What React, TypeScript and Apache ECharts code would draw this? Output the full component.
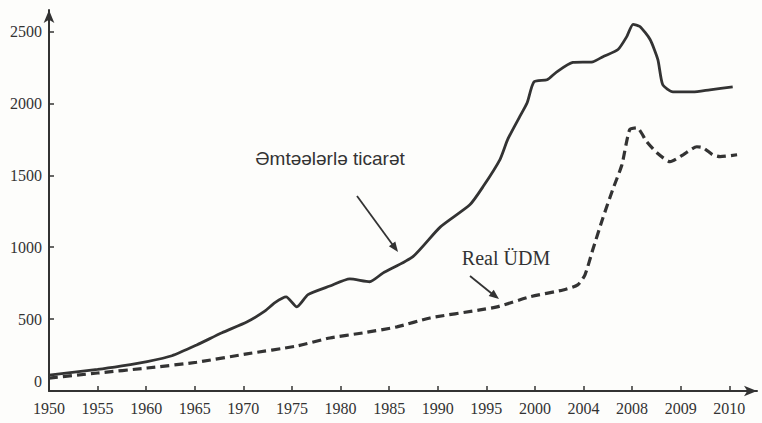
import React, { useEffect, useRef } from "react";
import * as echarts from "echarts";

// x-axis category labels (equally spaced positions 0..14)
const yearLabels = ["1950", "1955", "1960", "1965", "1970", "1975", "1980", "1985", "1990", "1995", "2000", "2004", "2008", "2009", "2010"];
const yTicks = [0, 500, 1000, 1500, 2000, 2500];

// Əmtəələrlə ticarət (solid) — position on the label scale, value
const tradePos = [0, 1.0, 1.5, 2.02, 2.53, 3.04, 3.56, 4.07, 4.44, 4.65, 4.88, 5.1, 5.33, 5.78, 6.19, 6.6, 6.87, 7.49, 8.05, 8.66, 8.93, 9.28, 9.44, 9.69, 9.84, 9.98, 10.25, 10.45, 10.78, 11.19, 11.4, 11.71, 11.89, 12.02, 12.16, 12.37, 12.53, 12.63, 12.84, 13.25, 13.6, 14.07];
const tradeValues = [110, 150, 175, 205, 245, 320, 405, 480, 555, 615, 655, 585, 670, 730, 780, 760, 820, 935, 1140, 1295, 1420, 1610, 1750, 1910, 2005, 2150, 2165, 2220, 2285, 2290, 2325, 2375, 2465, 2550, 2535, 2445, 2305, 2130, 2080, 2080, 2095, 2115];

// Real ÜDM (dashed)
const gdpPos = [0, 1.0, 2.02, 3.04, 4.07, 5.1, 5.78, 6.46, 7.16, 7.84, 8.87, 9.22, 9.9, 10.58, 10.88, 11.03, 11.19, 11.4, 11.6, 11.79, 11.95, 12.1, 12.3, 12.51, 12.78, 13.05, 13.33, 13.46, 13.66, 13.81, 14.16];
const gdpValues = [90, 125, 160, 200, 258, 313, 369, 404, 446, 508, 564, 585, 655, 703, 738, 808, 982, 1205, 1400, 1574, 1818, 1831, 1734, 1657, 1595, 1643, 1699, 1692, 1643, 1630, 1643];

const INK = "#333333";
const SERIF = "'Liberation Serif', 'DejaVu Serif', serif";
const SANS = "'Liberation Sans', 'DejaVu Sans', sans-serif";

export default function App() {
  const ref = useRef<HTMLDivElement>(null);
  useEffect(() => {
    if (!ref.current) return;
    const chart = echarts.init(ref.current, null, { renderer: "svg" });
    const trade = tradePos.map((p, i) => [p, tradeValues[i]]);
    const gdp = gdpPos.map((p, i) => [p, gdpValues[i]]);
    chart.setOption({
      animation: false,
      backgroundColor: "#fdfdfb",
      grid: { left: 49, right: 5, top: 10, bottom: 32 },
      xAxis: {
        type: "value",
        min: 0,
        max: 14.57,
        splitLine: { show: false },
        axisLine: { lineStyle: { color: INK, width: 2 }, symbol: ["none", "arrow"], symbolSize: [8, 13] },
        axisTick: { inside: true, length: 5, lineStyle: { color: INK, width: 1.5 }, customValues: yearLabels.map((_, i) => i) },
        axisLabel: {
          customValues: yearLabels.map((_, i) => i),
          formatter: (v: number) => yearLabels[Math.round(v)] ?? "",
          color: INK,
          fontFamily: SERIF,
          fontSize: 16,
          margin: 9,
        },
      },
      yAxis: {
        type: "value",
        min: 0,
        max: 2650,
        splitLine: { show: false },
        axisLine: { show: true, lineStyle: { color: INK, width: 2 }, symbol: ["none", "arrow"], symbolSize: [8, 13] },
        axisTick: { show: true, inside: true, length: 5, lineStyle: { color: INK, width: 1.5 }, customValues: yTicks },
        axisLabel: {
          customValues: yTicks,
          formatter: (v: number) => (v === 0 ? "{z|0}" : String(v)),
          color: INK,
          fontFamily: SERIF,
          fontSize: 16,
          margin: 7,
          rich: { z: { padding: [0, 0, 20, 0], color: INK, fontFamily: SERIF, fontSize: 16 } },
        },
      },
      series: [
        {
          type: "line",
          name: "Əmtəələrlə ticarət",
          data: trade,
          showSymbol: false,
          smooth: 0.2,
          lineStyle: { color: INK, width: 2.8 },
        },
        {
          type: "line",
          name: "Real ÜDM",
          data: gdp,
          showSymbol: false,
          smooth: 0.2,
          lineStyle: { color: INK, width: 3.2, type: [9, 5] },
        },
      ],
      graphic: [
        { type: "text", x: 330, y: 158, style: { text: "Əmtəələrlə ticarət", font: `19px ${SANS}`, fill: INK, align: "center", verticalAlign: "middle" } },
        { type: "line", shape: { x1: 357, y1: 196, x2: 395, y2: 248 }, style: { stroke: INK, lineWidth: 1.8 } },
        { type: "polygon", shape: { points: [[398, 252], [388.9, 246.3], [395.3, 241.5]] }, style: { fill: INK } },
        { type: "text", x: 506, y: 258, style: { text: "Real ÜDM", font: `20px ${SERIF}`, fill: INK, align: "center", verticalAlign: "middle" } },
        { type: "line", shape: { x1: 470, y1: 276, x2: 496, y2: 297 }, style: { stroke: INK, lineWidth: 1.8 } },
        { type: "polygon", shape: { points: [[499, 299], [488.7, 295.9], [493.7, 289.7]] }, style: { fill: INK } },
      ],
    });
    return () => chart.dispose();
  }, []);
  return <div ref={ref} style={{ position: "fixed", left: 0, top: 0, width: 762, height: 423 }} />;
}
